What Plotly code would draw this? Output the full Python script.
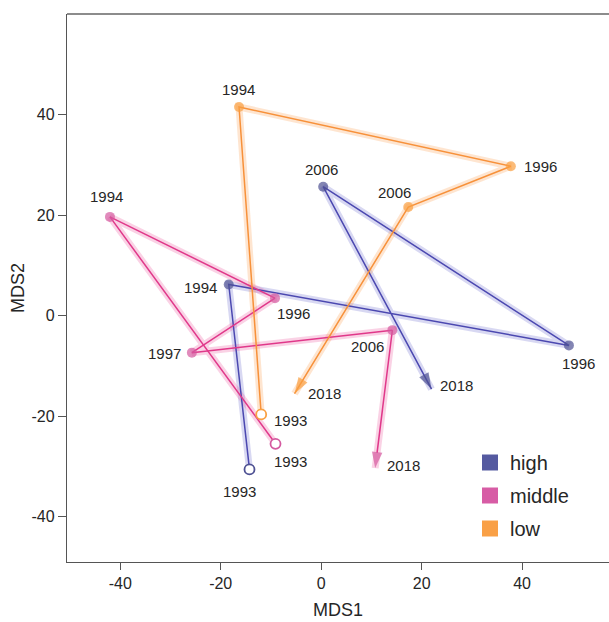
import plotly.graph_objects as go

# MDS ordination trajectories by group, sampled by year
groups = ["high", "middle", "low"]

high_years = ["1993", "1994", "1996", "2006", "2018"]
high_mds1 = [-14.27, -18.40, 49.32, 0.40, 21.97]
high_mds2 = [-30.58, 6.20, -5.92, 25.65, -14.61]

middle_years = ["1993", "1994", "1996", "1997", "2006", "2018"]
middle_mds1 = [-9.09, -42.05, -9.19, -25.74, 14.17, 10.75]
middle_mds2 = [-25.49, 19.64, 3.48, -7.36, -2.88, -30.32]

low_years = ["1993", "1994", "1996", "2006", "2018"]
low_mds1 = [-11.94, -16.35, 37.76, 17.34, -5.30]
low_mds2 = [-19.64, 41.51, 29.72, 21.61, -15.51]

tick_vals = [-40, -20, 0, 20, 40]
tick_text = ["-40", "-20", "0", "20", "40"]

# styling per group: point colour, path colour, halo colour, legend key colour
style = {
    "high": dict(point="#4E5193", line="#4B48B0", halo="rgba(90,90,200,0.24)", key="#555AA0"),
    "middle": dict(point="#D45AA0", line="#E0388A", halo="rgba(235,90,160,0.27)", key="#D75CA5"),
    "low": dict(point="#F9A042", line="#F7913A", halo="rgba(250,160,80,0.27)", key="#F9A046"),
}

# label offsets (px) relative to each point: (dx, dy) with dy downward
label_offsets = {
    "high": [(-10, 22), (-28, 3), (10, 18), (-2, -17), (25, -4)],
    "middle": [(15, 18), (-3, -20), (18, 15), (-27, 1), (-25, 16), (28, -3)],
    "low": [(29, 6), (-1, -17), (30, 0), (-14, -15), (30, 0)],
}

data = {
    "high": (high_mds1, high_mds2, high_years),
    "middle": (middle_mds1, middle_mds2, middle_years),
    "low": (low_mds1, low_mds2, low_years),
}

FONT = "Liberation Sans, Arial, Helvetica, sans-serif"
TEXT = "#262626"

fig = go.Figure()
annotations = []

# translucent halo under each path
for g in groups:
    xs, ys, _ = data[g]
    fig.add_trace(go.Scatter(
        x=xs, y=ys, mode="lines",
        line=dict(color=style[g]["halo"], width=7),
        hoverinfo="skip", showlegend=False,
    ))

# thin path with filled intermediate points and an arrow at the last year
for g in groups:
    xs, ys, yrs = data[g]
    n = len(xs)
    c = style[g]["point"]
    symbols = ["circle"] * (n - 1) + ["arrow"]
    sizes = [0] + [10] * (n - 2) + [17]
    fig.add_trace(go.Scatter(
        x=xs, y=ys, mode="lines+markers",
        line=dict(color=style[g]["line"], width=1.5),
        marker=dict(symbol=symbols, size=sizes, color=c,
                    line=dict(width=0), angleref="previous"),
        text=yrs, hovertemplate="%{text}<extra>" + g + "</extra>",
        showlegend=False,
    ))
    # open marker at the first year
    fig.add_trace(go.Scatter(
        x=xs[:1], y=ys[:1], mode="markers",
        marker=dict(symbol="circle", size=10, color="white",
                    line=dict(color=c, width=1.8)),
        text=yrs[:1], hovertemplate="%{text}<extra>" + g + "</extra>",
        showlegend=False,
    ))
    for (x, y, yr), (dx, dy) in zip(zip(xs, ys, yrs), label_offsets[g]):
        annotations.append(dict(
            x=x, y=y, xref="x", yref="y", text=yr, showarrow=False,
            xshift=dx, yshift=-dy, font=dict(family=FONT, size=15, color=TEXT),
        ))

# legend keys
for g in groups:
    fig.add_trace(go.Scatter(
        x=[None], y=[None], mode="markers", name=g, legendgroup=g,
        marker=dict(symbol="square", size=16, color=style[g]["key"]),
    ))

fig.update_layout(
    width=609, height=622,
    margin=dict(l=67, r=0, t=14, b=60),
    paper_bgcolor="white", plot_bgcolor="white",
    font=dict(family=FONT, color=TEXT),
    annotations=annotations,
    legend=dict(
        x=(470 - 67) / 542, y=(562 - 443) / 548, xanchor="left", yanchor="top",
        font=dict(family=FONT, size=20, color=TEXT),
        tracegroupgap=4, bgcolor="rgba(0,0,0,0)",
    ),
    shapes=[dict(type="line", xref="paper", yref="paper", x0=0, x1=1, y0=1, y1=1,
                 line=dict(color="#666666", width=1.3))],
    xaxis=dict(
        range=[-50.6, 57.3], showgrid=False, zeroline=False,
        showline=True, linecolor="#555555", linewidth=1.3,
        ticks="outside", ticklen=7, tickcolor="#555555", tickwidth=1.2,
        tickvals=tick_vals, ticktext=tick_text,
        tickfont=dict(family=FONT, size=16, color=TEXT),
        title=dict(text="MDS1", font=dict(family=FONT, size=18, color=TEXT), standoff=12),
    ),
    yaxis=dict(
        range=[-49, 60], showgrid=False, zeroline=False,
        showline=True, linecolor="#555555", linewidth=1.3,
        ticks="outside", ticklen=8, tickcolor="#555555", tickwidth=1.2,
        tickvals=tick_vals, ticktext=tick_text,
        tickfont=dict(family=FONT, size=16, color=TEXT),
        title=dict(text="MDS2", font=dict(family=FONT, size=18, color=TEXT), standoff=2),
    ),
)

fig.write_html("out.html")
